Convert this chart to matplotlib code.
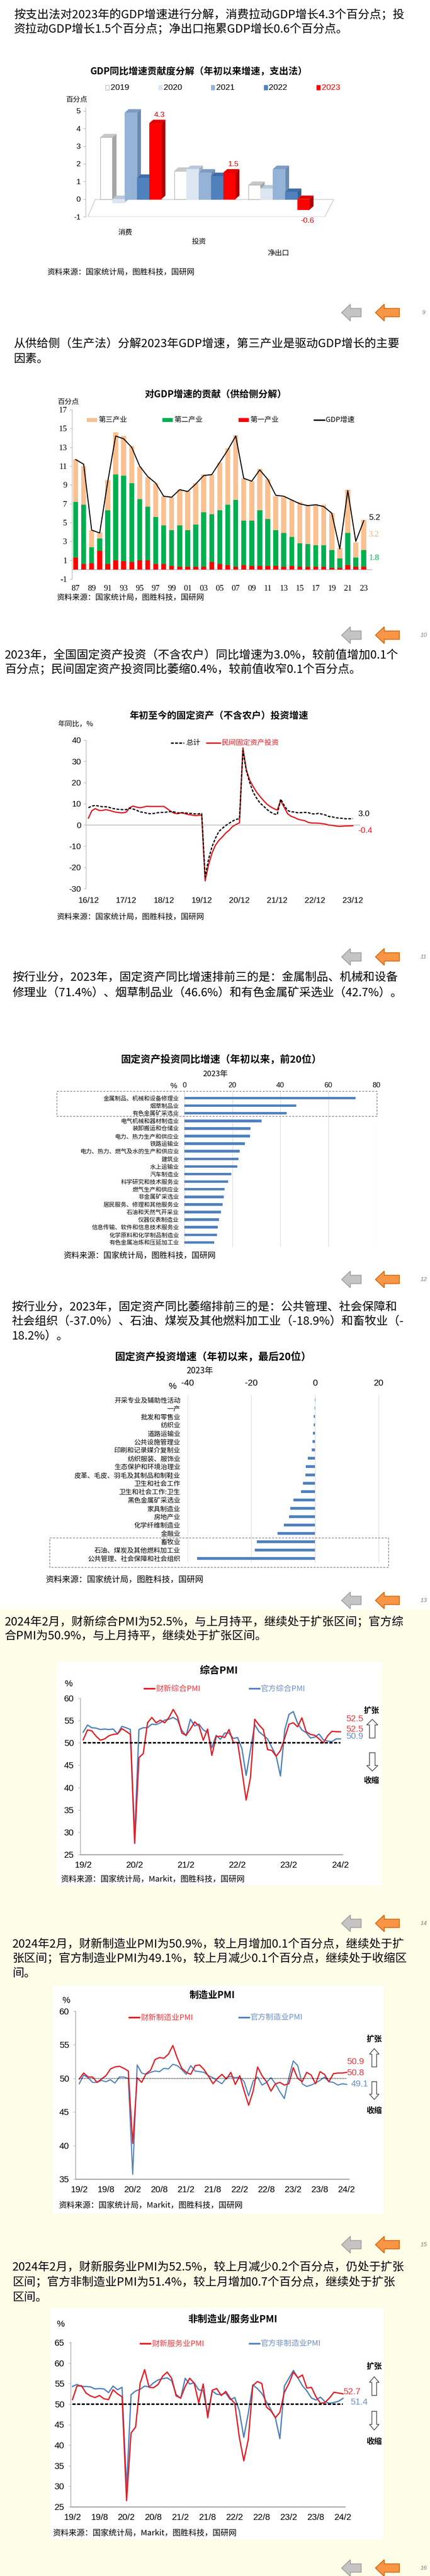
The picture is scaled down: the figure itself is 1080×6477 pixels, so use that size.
import matplotlib
matplotlib.use('Agg')
import matplotlib.pyplot as plt
import matplotlib.transforms as mtrans
from matplotlib.patches import Rectangle, Polygon
from matplotlib.lines import Line2D

# ---------------- data ----------------
text1 = ["按支出法对2023年的GDP增速进行分解，消费拉动GDP增长4.3个百分点；投",
         "资拉动GDP增长1.5个百分点；净出口拖累GDP增长0.6个百分点。"]
text2 = ["从供给侧（生产法）分解2023年GDP增速，第三产业是驱动GDP增长的主要",
         "因素。"]
text3 = ["2023年，全国固定资产投资（不含农户）同比增速为3.0%，较前值增加0.1个",
         "百分点；民间固定资产投资同比萎缩0.4%，较前值收窄0.1个百分点。"]
text4 = ["按行业分，2023年，固定资产同比增速排前三的是：金属制品、机械和设备",
         "修理业（71.4%）、烟草制品业（46.6%）和有色金属矿采选业（42.7%）。"]
text5 = ["按行业分，2023年，固定资产同比萎缩排前三的是：公共管理、社会保障和",
         "社会组织（-37.0%）、石油、煤炭及其他燃料加工业（-18.9%）和畜牧业（-",
         "18.2%）。"]
text6 = ["2024年2月，财新综合PMI为52.5%，与上月持平，继续处于扩张区间；官方综",
         "合PMI为50.9%，与上月持平，继续处于扩张区间。"]
text7 = ["2024年2月，财新制造业PMI为50.9%，较上月增加0.1个百分点，继续处于扩",
         "张区间；官方制造业PMI为49.1%，较上月减少0.1个百分点，继续处于收缩区",
         "间。"]
text8 = ["2024年2月，财新服务业PMI为52.5%，较上月减少0.2个百分点，仍处于扩张",
         "区间；官方非制造业PMI为51.4%，较上月增加0.7个百分点，继续处于扩张",
         "区间。"]
source1 = "资料来源：国家统计局，图胜科技，国研网"
source2 = "资料来源：国家统计局，Markit，图胜科技，国研网"

# chart 1: expenditure decomposition
cats1 = ['消费', '投资', '净出口']
years1 = ['2019', '2020', '2021', '2022', '2023']
consumption = [3.5, -0.2, 4.9, 1.2, 4.3]
investment = [1.6, 1.7, 1.5, 1.3, 1.5]
net_exports = [0.8, 0.6, 1.7, 0.4, -0.6]

# chart 2: supply side decomposition 1987-2023
years2 = ['87', '88', '89', '90', '91', '92', '93', '94', '95', '96', '97', '98', '99',
          '00', '01', '02', '03', '04', '05', '06', '07', '08', '09', '10', '11', '12',
          '13', '14', '15', '16', '17', '18', '19', '20', '21', '22', '23']
primary = [1.3, 0.6, 0.7, 2.0, 0.6, 1.0, 0.9, 0.8, 1.0, 1.0, 0.6, 0.6, 0.4, 0.3, 0.3,
           0.3, 0.3, 0.8, 0.6, 0.5, 0.3, 0.5, 0.4, 0.4, 0.4, 0.4, 0.3, 0.4, 0.3, 0.3,
           0.3, 0.3, 0.2, 0.2, 0.5, 0.3, 0.3]
secondary = [5.9, 6.3, 1.7, 1.3, 5.7, 9.1, 9.1, 8.4, 6.5, 5.7, 5.0, 4.1, 3.8, 4.4, 3.9,
             4.5, 5.8, 5.1, 5.7, 6.4, 7.1, 4.7, 4.8, 5.9, 5.0, 3.8, 3.6, 3.1, 2.5, 2.4,
             2.3, 2.3, 1.9, 1.0, 3.4, 1.0, 1.8]
tertiary = [4.5, 4.1, 1.8, 0.7, 3.2, 4.5, 4.2, 3.9, 3.4, 3.1, 3.6, 3.1, 3.5, 3.8, 4.2,
            4.4, 4.0, 4.2, 5.1, 6.0, 6.9, 4.5, 4.2, 4.4, 4.2, 3.6, 3.8, 3.9, 4.4, 4.2,
            4.3, 4.3, 3.9, 1.1, 4.6, 1.6, 3.2]
gdp = [11.7, 11.2, 4.2, 3.9, 9.3, 14.2, 13.9, 13.0, 11.0, 9.9, 9.2, 7.8, 7.7, 8.5, 8.3,
       9.1, 10.0, 10.1, 11.4, 12.7, 14.2, 9.7, 9.4, 10.6, 9.6, 7.9, 7.8, 7.4, 7.0, 6.8,
       6.9, 6.7, 6.0, 2.2, 8.4, 3.0, 5.2]

# chart 3: FAI ytd growth, 16/12 then Feb-Dec of each year
fai_labels = ['16/12', '17/12', '18/12', '19/12', '20/12', '21/12', '22/12', '23/12']
fai_total = [8.1,
             8.9, 9.2, 8.9, 8.6, 8.6, 8.3, 7.8, 7.5, 7.3, 7.2, 7.2,
             7.9, 7.5, 7.0, 6.1, 6.0, 5.5, 5.3, 5.4, 5.7, 5.9, 5.9,
             6.1, 6.3, 6.1, 5.6, 5.8, 5.7, 5.5, 5.4, 5.2, 5.2, 5.4,
             -24.5, -16.1, -10.3, -6.3, -3.1, -1.6, -0.3, 0.8, 1.8, 2.6, 2.9,
             35.0, 25.6, 19.9, 15.4, 12.6, 10.3, 8.9, 7.3, 6.1, 5.2, 4.9,
             12.2, 9.3, 6.8, 6.2, 6.1, 5.7, 5.8, 5.9, 5.8, 5.3, 5.1,
             5.5, 5.1, 4.7, 4.0, 3.8, 3.4, 3.2, 3.1, 2.9, 2.9, 3.0]
fai_private = [3.2,
               6.7, 7.7, 6.9, 6.8, 7.2, 6.9, 6.4, 6.0, 5.8, 5.7, 6.0,
               8.1, 8.9, 8.4, 8.1, 8.4, 8.8, 8.7, 8.7, 8.7, 8.7, 8.7,
               7.6, 6.4, 5.5, 5.3, 5.7, 5.4, 4.9, 4.7, 4.4, 4.5, 4.7,
               -26.4, -18.8, -13.3, -9.6, -7.3, -5.7, -3.8, -2.5, -0.7, 0.2, 1.0,
               36.4, 26.0, 21.0, 18.1, 15.4, 13.4, 11.5, 9.8, 8.6, 7.7, 7.0,
               11.4, 8.4, 5.3, 4.1, 3.5, 2.7, 2.3, 2.0, 1.2, 0.9, 0.9,
               0.8, 0.6, 0.4, -0.1, -0.2, -0.5, -0.7, -0.6, -0.5, -0.5, -0.4]

# chart 4: top 20 industries
top_inds = ['金属制品、机械和设备修理业', '烟草制品业', '有色金属矿采选业', '电气机械和器材制造业',
            '装卸搬运和仓储业', '电力、热力生产和供应业', '铁路运输业', '电力、热力、燃气及水的生产和供应业',
            '建筑业', '水上运输业', '汽车制造业', '科学研究和技术服务业', '燃气生产和供应业',
            '非金属矿采选业', '居民服务、修理和其他服务业', '石油和天然气开采业', '仪器仪表制造业',
            '信息传输、软件和信息技术服务业', '化学原料和化学制品制造业', '有色金属冶炼和压延加工业']
top_vals = [71.4, 46.6, 42.7, 32.2, 27.5, 27.3, 25.2, 23.0, 22.6, 22.1, 19.6, 18.2, 16.7,
            16.4, 15.9, 15.2, 14.4, 13.9, 13.6, 12.5]

# chart 5: bottom 20 industries
bot_inds = ['开采专业及辅助性活动', '一产', '批发和零售业', '纺织业', '道路运输业', '公共设施管理业',
            '印刷和记录媒介复制业', '纺织服装、服饰业', '生态保护和环境治理业', '皮革、毛皮、羽毛及其制品和制鞋业',
            '卫生和社会工作', '卫生和社会工作:卫生', '黑色金属矿采选业', '家具制造业', '房地产业',
            '化学纤维制造业', '金融业', '畜牧业', '石油、煤炭及其他燃料加工业', '公共管理、社会保障和社会组织']
bot_vals = [0.1, -0.1, -0.4, -0.4, -0.6, -0.8, -1.0, -2.2, -2.9, -3.0, -3.8, -4.4, -6.7,
            -7.7, -8.1, -9.8, -11.8, -18.2, -18.9, -37.0]

# PMI charts: Feb 2019 - Feb 2024
pmi_labels_y = ['19/2', '20/2', '21/2', '22/2', '23/2', '24/2']
pmi_labels_h = ['19/2', '19/8', '20/2', '20/8', '21/2', '21/8', '22/2', '22/8', '23/2', '23/8', '24/2']
caixin_comp = [50.7, 52.9, 52.7, 51.5, 50.6, 50.9, 51.6, 51.9, 52.0, 53.2, 52.6,
               51.9, 27.5, 46.7, 47.6, 54.5, 55.7, 54.5, 55.1, 54.5, 55.7, 57.5, 55.8,
               52.2, 51.7, 53.1, 54.7, 53.8, 50.6, 53.1, 47.2, 51.4, 51.5, 51.2, 53.0,
               50.1, 50.1, 43.9, 37.2, 42.2, 55.3, 54.0, 53.0, 48.5, 48.3, 47.0, 48.3,
               51.1, 54.2, 54.5, 53.6, 55.6, 52.5, 51.9, 51.7, 50.9, 50.0, 51.6, 52.6,
               52.5, 52.5]
official_comp = [52.4, 54.0, 53.4, 53.3, 53.0, 53.1, 53.0, 53.1, 52.0, 53.7, 53.4,
                 53.0, 28.9, 53.0, 53.4, 53.4, 54.2, 54.1, 54.5, 55.1, 55.3, 55.7, 55.1,
                 52.8, 51.6, 55.3, 53.8, 54.2, 52.9, 52.4, 48.9, 51.7, 50.8, 52.2, 52.2,
                 51.0, 51.2, 48.8, 42.7, 48.4, 54.1, 52.5, 51.7, 50.9, 49.0, 47.1, 42.6,
                 52.9, 56.4, 57.0, 54.4, 52.9, 52.3, 51.1, 51.3, 52.0, 50.7, 50.4, 50.3,
                 50.9, 50.9]
caixin_mfg = [49.9, 50.8, 50.2, 50.2, 49.4, 49.9, 50.4, 51.4, 51.7, 51.8, 51.5,
              51.1, 40.3, 50.1, 49.4, 50.7, 51.2, 52.8, 53.1, 53.0, 53.6, 54.9, 53.0,
              51.5, 50.9, 50.6, 51.9, 52.0, 51.3, 50.3, 49.2, 50.0, 50.6, 49.9, 50.9,
              49.1, 50.4, 48.1, 46.0, 48.1, 51.7, 50.4, 49.5, 48.1, 49.2, 49.4, 49.0,
              49.2, 51.6, 50.0, 49.5, 50.9, 50.5, 49.2, 51.0, 50.6, 49.5, 50.7, 50.8,
              50.8, 50.9]
official_mfg = [49.2, 50.5, 50.1, 49.4, 49.4, 49.7, 49.5, 49.8, 49.3, 50.2, 50.2,
                50.0, 35.7, 52.0, 50.8, 50.6, 50.9, 51.1, 51.0, 51.5, 51.4, 52.1, 51.9,
                51.3, 50.6, 51.9, 51.1, 51.0, 50.9, 50.4, 50.1, 49.6, 49.2, 50.1, 50.3,
                50.1, 50.2, 49.5, 47.4, 49.6, 50.2, 49.0, 49.4, 50.1, 49.2, 48.0, 47.0,
                50.1, 52.6, 51.9, 49.2, 48.8, 49.0, 49.3, 49.7, 50.2, 49.5, 49.4, 49.0,
                49.2, 49.1]
caixin_serv = [51.1, 54.4, 54.5, 52.7, 52.0, 51.6, 52.1, 51.3, 51.1, 53.5, 52.5,
               51.8, 26.5, 43.0, 44.4, 55.0, 58.4, 54.1, 54.0, 54.8, 56.8, 57.8, 56.3,
               52.0, 51.5, 54.3, 56.3, 55.1, 50.3, 54.9, 46.7, 53.4, 53.8, 52.1, 53.1,
               51.4, 50.2, 42.0, 36.2, 41.4, 54.5, 55.5, 55.0, 49.3, 48.4, 46.7, 48.0,
               52.9, 55.0, 57.8, 56.4, 57.1, 53.9, 54.1, 51.8, 50.2, 50.4, 51.5, 52.9,
               52.7, 52.5]
official_nonmfg = [54.3, 54.8, 54.3, 54.3, 54.2, 53.7, 53.8, 53.7, 52.8, 54.4, 53.5,
                   54.1, 29.6, 52.3, 53.2, 53.6, 54.4, 54.2, 55.2, 55.9, 56.2, 56.4, 55.7,
                   52.4, 51.4, 56.3, 54.9, 55.2, 53.5, 53.3, 47.5, 53.2, 52.4, 52.3, 52.7,
                   51.1, 51.6, 48.4, 41.9, 47.8, 54.7, 53.8, 52.6, 50.6, 48.7, 46.7, 41.6,
                   54.4, 56.3, 58.2, 56.4, 54.5, 53.2, 51.5, 51.0, 51.7, 50.6, 50.2, 50.4,
                   50.7, 51.4]

# ---------------- figure ----------------
W, H = 1080, 6477
CJK = ['Noto Sans CJK SC', 'DejaVu Sans']
SANS = ['Liberation Sans', 'Noto Sans CJK SC', 'DejaVu Sans']
SERIF = ['Liberation Serif', 'Noto Sans CJK SC', 'DejaVu Sans']
plt.rcParams['font.family'] = CJK
plt.rcParams['axes.unicode_minus'] = False

YEL = '#FEFDE7'
AXC = '#A6A6A6'
RED = '#E41E26'
BLUE = '#4F81BD'
LRED = '#E8383D'
LBLUE = '#6A8FC4'

fig = plt.figure(figsize=(W / 100, H / 100), dpi=100)
fig.patch.set_facecolor('white')
PX = mtrans.Affine2D().scale(1 / W, -1 / H).translate(0, 1) + fig.transFigure


def T(x, y, s, size, color='black', ha='left', va='center', weight='normal',
      family=CJK, style='normal'):
    fig.text(x, y, s, transform=PX, fontsize=size, color=color, ha=ha, va=va,
             fontweight=weight, family=family, style=style, zorder=5)


def AX(x0, y0, x1, y1):
    ax = fig.add_axes([x0 / W, 1 - y1 / H, (x1 - x0) / W, (y1 - y0) / H])
    ax.patch.set_alpha(0)
    for s in ['top', 'right']:
        ax.spines[s].set_visible(False)
    ax.spines['left'].set_color(AXC)
    ax.spines['bottom'].set_color(AXC)
    return ax


def para(lines, x, y0, dy=36.5, size=21):
    for i, s in enumerate(lines):
        T(x, y0 + i * dy, s, size)


def rect(x, y, w, h, **kw):
    fig.add_artist(Rectangle((x, y), w, h, transform=PX, **kw))


def hline(x0, x1, y, **kw):
    fig.add_artist(Line2D([x0, x1], [y, y], transform=PX, **kw))


def nav(yc, page):
    for x0, x1, fc, ec in [(858, 907, '#C4C4C4', '#A0A0A0'), (943, 1003, '#F79646', '#D8650C')]:
        pts = [(x0, yc), (x0 + 22, yc - 21), (x0 + 22, yc - 10.5), (x1, yc - 10.5),
               (x1, yc + 10.5), (x0 + 22, yc + 10.5), (x0 + 22, yc + 21)]
        fig.add_artist(Polygon(pts, closed=True, transform=PX, fc=fc, ec=ec, lw=1.5))
    T(1064, yc, page, 11, color='#7F7F7F', ha='center', style='italic', family=SANS)


def hollow_arrow(x0, x1, y0, y1, up=True):
    xc = (x0 + x1) / 2
    sw = (x1 - x0) * 0.25
    hh = (y1 - y0) * 0.3
    if up:
        pts = [(xc, y0), (x1, y0 + hh), (xc + sw, y0 + hh), (xc + sw, y1),
               (xc - sw, y1), (xc - sw, y0 + hh), (x0, y0 + hh)]
    else:
        pts = [(xc, y1), (x1, y1 - hh), (xc + sw, y1 - hh), (xc + sw, y0),
               (xc - sw, y0), (xc - sw, y1 - hh), (x0, y1 - hh)]
    fig.add_artist(Polygon(pts, closed=True, transform=PX, fc='white', ec='#404040', lw=1.2))


# background: pale yellow lower part
rect(0, 4047, W, H - 4047, fc=YEL, ec='none', zorder=-10)

# ================= Section 1 =================
para(text1, 35, 38)
T(500, 180, 'GDP同比增速贡献度分解（年初以来增速，支出法）', 17, ha='center', weight='bold')
front_c = ['#FFFFFF', '#DCE6F2', '#95B3D7', '#4F81BD', '#FF0000']
top_c = ['#C8C8C8', '#B9C8DA', '#7E9CC2', '#3F6DA8', '#E00000']
side_c = ['#A6A6A6', '#9FB1C8', '#6C89AE', '#365E92', '#B00000']
for i, yr in enumerate(years1):
    x = 265 + i * 132.5
    rect(x, 214, 9, 12, fc=front_c[i], ec=(AXC if i == 0 else front_c[i]), lw=0.8)
    T(x + 13, 220, yr, 15, color=('#FF0000' if i == 4 else 'black'), family=SANS)
T(166, 251, '百分点', 13)

ax1 = AX(215, 270, 840, 545)
ax1.set_xlim(-0.61, 2.75)
ax1.set_ylim(-1, 5.2)
ax1.spines['bottom'].set_visible(False)
w1, ddx, ddy = 0.165, 0.055, 0.2
ax1.add_patch(Polygon([(-0.58, -1.0), (2.62, -1.0), (2.74, -0.02), (-0.48, -0.02)],
                      closed=True, fc='white', ec='#C8C8C8', lw=1.2, zorder=1))
for gi, vals in enumerate([consumption, investment, net_exports]):
    for si, v in enumerate(vals):
        x0 = gi - 2.5 * w1 + si * w1
        lo, hi = min(0, v), max(0, v)
        z = 2 + si * 0.1
        ax1.add_patch(Polygon([(x0 + w1, lo), (x0 + w1 + ddx, lo + ddy), (x0 + w1 + ddx, hi + ddy),
                               (x0 + w1, hi)], closed=True, fc=side_c[si], ec='none', zorder=z))
        ax1.add_patch(Polygon([(x0, hi), (x0 + ddx, hi + ddy), (x0 + w1 + ddx, hi + ddy),
                               (x0 + w1, hi)], closed=True, fc=top_c[si], ec='none', zorder=z))
        ax1.bar(x0, hi - lo, bottom=lo, width=w1, align='edge', color=front_c[si],
                edgecolor=('#A0A0A0' if si == 0 else front_c[si]), lw=0.8, zorder=z + 0.05)
    v = vals[4]
    x0 = gi - 2.5 * w1 + 4 * w1
    if v >= 0:
        ax1.annotate(f'{v:.1f}', xy=(x0 + w1 / 2 + ddx, v + ddy), xytext=(0, 3),
                     textcoords='offset pixels', ha='center', va='bottom', color='#E00000',
                     fontsize=14, family=SANS, annotation_clip=False)
    else:
        ax1.annotate(f'{v:.1f}', xy=(x0 + w1 / 2, v), xytext=(10, -28),
                     textcoords='offset pixels', ha='center', va='center', color='#E00000',
                     fontsize=14, family=SANS, annotation_clip=False)
for i, (c, off) in enumerate(zip(cats1, [(-14, -40), (-15, -63), (-1, -92)])):
    ax1.annotate(c, xy=(i, -1), xytext=off, textcoords='offset pixels', ha='center',
                 va='center', fontsize=13, family=CJK, annotation_clip=False)
ax1.set_xticks([])
ax1.set_yticks(range(-1, 6), [str(t) for t in range(-1, 6)], fontsize=14, family=SANS)
ax1.tick_params(axis='y', length=4, pad=5, color=AXC)
T(118, 684, source1, 14)
nav(786, '9')

# ================= Section 2 =================
para(text2, 35, 865, dy=38)
T(542, 992, '对GDP增速的贡献（供给侧分解）', 17, ha='center', weight='bold')
T(145, 1011, '百分点', 13)
for lab, col, x in [('第三产业', '#FAC090', 218), ('第二产业', '#00B050', 408), ('第一产业', '#FF0000', 599)]:
    rect(x, 1051, 26, 10, fc=col, ec='none')
    T(x + 29, 1056, lab, 13)
hline(789, 815, 1056, color='black', lw=2.5)
T(818, 1056, 'GDP增速', 13)

ax2 = AX(181, 1030, 935, 1456)
x2 = list(range(len(years2)))
base2 = [p + s for p, s in zip(primary, secondary)]
ax2.bar(x2, primary, 0.62, color='#FF0000', zorder=2)
ax2.bar(x2, secondary, 0.62, bottom=primary, color='#00B050', zorder=2)
ax2.bar(x2, tertiary, 0.62, bottom=base2, color='#FAC090', zorder=2)
ax2.plot(x2, gdp, color='black', lw=1.8, zorder=3)
ax2.axhline(0, color=AXC, lw=1, zorder=1)
ax2.set_xlim(-0.45, 37.06)
ax2.set_ylim(-1, 17)
ax2.spines['bottom'].set_visible(False)
ax2.set_yticks(range(-1, 18, 2), [str(t) for t in range(-1, 18, 2)], fontsize=15, family=SERIF)
ax2.tick_params(axis='y', length=4, pad=5, color=AXC)
ax2.set_xticks(x2[::2], years2[::2], fontsize=15, family=SERIF)
ax2.tick_params(axis='x', length=0, pad=11)
ax2.annotate(f'{gdp[-1]:.1f}', xy=(36, gdp[-1]), xytext=(12, 8), textcoords='offset pixels',
             va='center', fontsize=15, family=SANS, annotation_clip=False)
ax2.annotate(f'{tertiary[-1]:.1f}', xy=(36, base2[-1] + tertiary[-1] / 2), xytext=(12, 0),
             textcoords='offset pixels', va='center', fontsize=15, family=SERIF,
             color='#F4B183', annotation_clip=False)
ax2.annotate(f'{secondary[-1]:.1f}', xy=(36, primary[-1] + secondary[-1] / 2), xytext=(12, 0),
             textcoords='offset pixels', va='center', fontsize=15, family=SERIF,
             color='#00B050', annotation_clip=False)
T(142, 1502, source1, 14)
nav(1597, '10')

# ================= Section 3 =================
para(text3, 12, 1648)
T(550, 1800, '年初至今的固定资产（不含农户）投资增速', 17, ha='center', weight='bold')
T(145, 1821, '年同比，%', 13)
hline(429, 462, 1868, color='black', lw=2.5, ls=(0, (2, 1)))
T(467, 1868, '总计', 13)
hline(519, 553, 1868, color='#E0191F', lw=2.5)
T(557, 1868, '民间固定资产投资', 13, color='#E0191F')

ax3 = AX(216, 1861, 905, 2234)
x3 = list(range(len(fai_total)))
ax3.axhline(0, color=AXC, lw=1, zorder=1)
ax3.plot(x3, fai_total, color='black', lw=2.2, ls=(0, (2.2, 1.2)), zorder=3)
ax3.plot(x3, fai_private, color='#E0191F', lw=2.2, zorder=2)
ax3.set_xlim(-0.7, 79.2)
ax3.set_ylim(-30, 40)
ax3.spines['bottom'].set_visible(False)
ax3.set_yticks(range(-30, 41, 10), [str(t) for t in range(-30, 41, 10)], fontsize=15, family=SANS)
ax3.tick_params(axis='y', length=4, pad=5, color=AXC)
ax3.set_xticks(list(range(0, 78, 11)), fai_labels, fontsize=15, family=SANS)
ax3.tick_params(axis='x', length=0, pad=15)
ax3.annotate(f'{fai_total[-1]:.1f}', xy=(x3[-1], fai_total[-1]), xytext=(13, 12),
             textcoords='offset pixels', va='center', fontsize=15, family=SANS,
             annotation_clip=False)
ax3.annotate(f'{fai_private[-1]:.1f}', xy=(x3[-1], fai_private[-1]), xytext=(13, -12),
             textcoords='offset pixels', va='center', fontsize=15, family=SANS,
             color='#E0191F', annotation_clip=False)
T(142, 2305, source1, 14)
nav(2406, '11')

# ================= Section 4 =================
para(text4, 31, 2458, dy=38)
T(555, 2665, '固定资产投资同比增速（年初以来，前20位）', 18, ha='center', weight='bold')
T(541, 2700, '2023年', 14, ha='center')
T(436, 2731, '%', 14, ha='center', family=SANS)
ax4 = AX(462, 2745, 945, 3135)
ax4.barh(range(len(top_vals)), top_vals, height=0.34, color=BLUE, zorder=2)
ax4.set_xlim(-0.2, 80)
ax4.set_ylim(19.58, -0.84)
for s in ['left', 'bottom']:
    ax4.spines[s].set_visible(False)
ax4.grid(axis='x', color='#D9D9D9', lw=1)
ax4.set_axisbelow(True)
ax4.xaxis.tick_top()
ax4.set_xticks([0, 20, 40, 60, 80], ['0', '20', '40', '60', '80'], fontsize=13, family=SANS)
ax4.tick_params(axis='x', length=0, pad=5)
ax4.set_yticks(range(len(top_inds)), top_inds, fontsize=10.5, family=CJK)
ax4.tick_params(axis='y', length=0, pad=9)
rect(143, 2744, 804, 63, fill=False, ec='#808080', lw=1.2, ls=(0, (3, 2)))
T(159, 3157, source1, 14.5)
nav(3217, '12')

# ================= Section 5 =================
para(text5, 29, 3287)
T(535, 3413, '固定资产投资增速（年初以来，最后20位）', 18.5, ha='center', weight='bold')
T(502, 3447, '2023年', 15, ha='center')
T(433, 3486, '%', 16, ha='center', family=SANS)
ax5 = AX(471, 3508, 967, 3929)
ax5.barh(range(len(bot_vals)), bot_vals, height=0.34, color=BLUE, zorder=2)
ax5.set_xlim(-40, 22)
ax5.set_ylim(19.52, -0.57)
for s in ['left', 'bottom']:
    ax5.spines[s].set_visible(False)
ax5.grid(axis='x', color='#D9D9D9', lw=1)
ax5.set_axisbelow(True)
ax5.xaxis.tick_top()
ax5.set_xticks([-40, -20, 0, 20], ['-40', '-20', '0', '20'], fontsize=16, family=SANS)
ax5.tick_params(axis='x', length=0, pad=14)
ax5.set_yticks(range(len(bot_inds)), bot_inds, fontsize=12, family=CJK)
ax5.tick_params(axis='y', length=0, pad=13)
rect(125, 3867, 851, 74, fill=False, ec='#808080', lw=1.2, ls=(0, (3, 2)))
T(114, 3972, source1, 15)
nav(4024, '13')


# ================= PMI helper =================
def pmi_axes(box, xlim, ylim, yticks, xt_idx, xt_lab, red, blue, line50, lw_r=2.3, lw_b=2.3):
    ax = AX(*box)
    xs = list(range(len(red)))
    ax.plot(xs, blue, color=BLUE, lw=lw_b, zorder=3)
    ax.plot(xs, red, color=RED, lw=lw_r, zorder=4)
    ax.plot([xs[0], xs[-1]], [50, 50], color='black', zorder=5, **line50)
    ax.set_xlim(*xlim)
    ax.set_ylim(*ylim)
    ax.spines['left'].set_linewidth(1.2)
    ax.spines['bottom'].set_linewidth(2)
    ax.set_yticks(yticks, [str(t) for t in yticks], fontsize=16, family=SANS)
    ax.tick_params(axis='y', length=4, pad=8, color=AXC)
    ax.set_xticks(xt_idx, xt_lab, fontsize=16, family=SANS)
    ax.tick_params(axis='x', length=0, pad=12)
    return ax


# ================= Section 6 =================
para(text6, 12, 4078)
rect(142, 4178, 817, 563, fc='white', ec='none', zorder=-5)
T(550, 4201, '综合PMI', 18, ha='center', weight='bold')
T(172, 4235, '%', 16, ha='center', family=SANS)
hline(363, 388, 4246, color=RED, lw=3)
T(391, 4246, '财新综合PMI', 14, color=LRED)
hline(627, 652, 4246, color=BLUE, lw=3)
T(655, 4246, '官方综合PMI', 14, color=LBLUE)
pmi_axes((202, 4270, 860, 4663), (-0.65, 60.45), (25, 60), list(range(25, 61, 5)),
         list(range(0, 61, 12)), pmi_labels_y, caixin_comp, official_comp,
         dict(lw=2.8, ls=(0, (2, 1))))
T(869, 4322, f'{caixin_comp[-1]:.1f}', 16, color=LRED, family=SANS)
T(869, 4348, f'{caixin_comp[-1]:.1f}', 16, color=LRED, family=SANS)
T(869, 4366, f'{official_comp[-1]:.1f}', 16, color=LBLUE, family=SANS)
T(933, 4301, '扩张', 14, ha='center', weight='bold')
hollow_arrow(921, 949, 4323, 4370, up=True)
hollow_arrow(921, 949, 4407, 4453, up=False)
T(933, 4477, '收缩', 14, ha='center', weight='bold')
T(152, 4725, source2, 14.5)
nav(4836, '14')

# ================= Section 7 =================
para(text7, 31, 4889)
rect(132, 4993, 831, 573, fc='white', ec='none', zorder=-5)
T(533, 5017, '制造业PMI', 17, ha='center', weight='bold')
T(166, 5030, '%', 16, ha='center', family=SANS)
hline(325, 350, 5073, color=RED, lw=3)
T(353, 5073, '财新制造业PMI', 14, color=LRED)
hline(601, 626, 5073, color=BLUE, lw=3)
T(629, 5073, '官方制造业PMI', 14, color=LBLUE)
pmi_axes((190, 5057, 876, 5479), (-0.8, 60.45), (35, 60), list(range(35, 61, 5)),
         list(range(0, 61, 6)), pmi_labels_h, caixin_mfg, official_mfg,
         dict(lw=1.3, ls=(0, (1, 1.2))), lw_r=2.2, lw_b=2.0)
T(871, 5185, f'{caixin_mfg[-1]:.1f}', 16, color=LRED, family=SANS)
T(871, 5213, f'{caixin_mfg[-2]:.1f}', 16, color=LRED, family=SANS)
T(881, 5240, f'{official_mfg[-1]:.1f}', 16, color=LBLUE, family=SANS)
T(940, 5127, '扩张', 14, ha='center', weight='bold')
hollow_arrow(928, 952, 5151, 5197, up=True)
hollow_arrow(928, 952, 5234, 5279, up=False)
T(940, 5307, '收缩', 14, ha='center', weight='bold')
T(147, 5545, source2, 14.5)
nav(5644, '15')

# ================= Section 8 =================
para(text8, 31, 5701, dy=38)
rect(125, 5803, 838, 582, fc='white', ec='none', zorder=-5)
T(585, 5831, '非制造业/服务业PMI', 17.5, ha='center', weight='bold')
T(152, 5845, '%', 16, ha='center', family=SANS)
hline(353, 378, 5893, color=RED, lw=3)
T(381, 5893, '财新服务业PMI', 14, color=LRED)
hline(627, 652, 5893, color=BLUE, lw=3)
T(655, 5893, '官方非制造业PMI', 14, color=LBLUE)
pmi_axes((178, 5890, 866, 6303), (-0.35, 60.4), (25, 65), list(range(25, 66, 5)),
         list(range(0, 61, 6)), pmi_labels_h, caixin_serv, official_nonmfg,
         dict(lw=2.8, ls=(0, (2, 1))))
T(862, 6014, f'{caixin_serv[-2]:.1f}', 16, color=LRED, family=SANS)
T(880, 6040, f'{official_nonmfg[-1]:.1f}', 16, color=LBLUE, family=SANS)
T(940, 5950, '扩张', 14, ha='center', weight='bold')
hollow_arrow(928, 952, 5976, 6023, up=True)
hollow_arrow(928, 952, 6063, 6110, up=False)
T(940, 6139, '收缩', 14, ha='center', weight='bold')
T(132, 6369, source2, 14.5)
nav(6457, '16')

fig.savefig('out.png', dpi=100, facecolor=fig.get_facecolor())
